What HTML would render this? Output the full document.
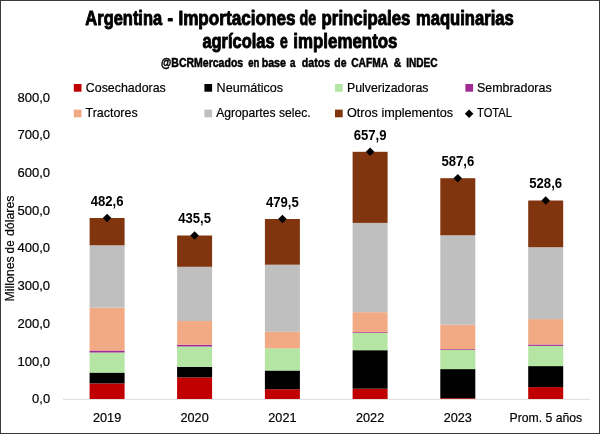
<!DOCTYPE html>
<html lang="es"><head><meta charset="utf-8"><title>Argentina - Importaciones de principales maquinarias agrícolas e implementos</title>
<style>html,body{margin:0;padding:0;background:#fff}body{width:600px;height:434px;overflow:hidden}svg{display:block}text{font-family:"Liberation Sans",sans-serif;fill:#000}.t{font-weight:bold;font-size:20px;stroke:#000;stroke-width:.95px;stroke-linejoin:round}.s{font-weight:bold;font-size:12.5px;stroke:#000;stroke-width:.5px}.n{font-size:13.33px;stroke:#000;stroke-width:.2px}.b{font-size:13.8px;font-weight:bold}</style>
</head><body>
<svg width="600" height="434" viewBox="0 0 600 434">
<rect x="0" y="0" width="600" height="434" fill="#fff"/>
<rect x="0.5" y="0.5" width="599" height="433" fill="none" stroke="#3a3a3a" stroke-width="1"/>
<text class="t" text-anchor="middle" transform="translate(123.75,25.0) scale(0.823,1)">Argentina</text>
<text class="t" text-anchor="middle" transform="translate(170.3,25.0) scale(0.835,1)">-</text>
<text class="t" text-anchor="middle" transform="translate(236.9,25.0) scale(0.857,1)">Importaciones</text>
<text class="t" text-anchor="middle" transform="translate(307.9,25.0) scale(0.71,1)">de</text>
<text class="t" text-anchor="middle" transform="translate(366.0,25.0) scale(0.842,1)">principales</text>
<text class="t" text-anchor="middle" transform="translate(464.8,25.0) scale(0.831,1)">maquinarias</text>
<text class="t" text-anchor="middle" transform="translate(238.5,48.3) scale(0.821,1)">agrícolas</text>
<text class="t" text-anchor="middle" transform="translate(284.0,48.3) scale(0.7,1)">e</text>
<text class="t" text-anchor="middle" transform="translate(345.4,48.3) scale(0.844,1)">implementos</text>
<text class="s" text-anchor="middle" transform="translate(202.1,66.6) scale(0.842,1)">@BCRMercados</text>
<text class="s" text-anchor="middle" transform="translate(253.75,66.6) scale(0.76,1)">en</text>
<text class="s" text-anchor="middle" transform="translate(273.8,66.6) scale(0.855,1)">base</text>
<text class="s" text-anchor="middle" transform="translate(292.65,66.6) scale(0.78,1)">a</text>
<text class="s" text-anchor="middle" transform="translate(316.0,66.6) scale(0.85,1)">datos</text>
<text class="s" text-anchor="middle" transform="translate(340.4,66.6) scale(0.833,1)">de</text>
<text class="s" text-anchor="middle" transform="translate(369.65,66.6) scale(0.82,1)">CAFMA</text>
<text class="s" text-anchor="middle" transform="translate(397.55,66.6) scale(0.83,1)">&amp;</text>
<text class="s" text-anchor="middle" transform="translate(421.9,66.6) scale(0.81,1)">INDEC</text>
<rect x="73.8" y="84.0" width="7.7" height="7.7" fill="#C00000"/>
<text x="85.8" y="91.8" class="n" text-anchor="start" textLength="80.0" lengthAdjust="spacingAndGlyphs">Cosechadoras</text>
<rect x="204.4" y="84.0" width="7.7" height="7.7" fill="#000000"/>
<text x="216.6" y="91.8" class="n" text-anchor="start" textLength="66.4" lengthAdjust="spacingAndGlyphs">Neumáticos</text>
<rect x="335.0" y="84.0" width="7.7" height="7.7" fill="#B4E5A2"/>
<text x="347.0" y="91.8" class="n" text-anchor="start" textLength="81.4" lengthAdjust="spacingAndGlyphs">Pulverizadoras</text>
<rect x="465.4" y="84.0" width="7.7" height="7.7" fill="#A02B93"/>
<text x="477.0" y="91.8" class="n" text-anchor="start" textLength="74.6" lengthAdjust="spacingAndGlyphs">Sembradoras</text>
<rect x="73.8" y="109.6" width="7.7" height="7.7" fill="#F2AA84"/>
<text x="85.6" y="116.8" class="n" text-anchor="start" textLength="52.0" lengthAdjust="spacingAndGlyphs">Tractores</text>
<rect x="204.4" y="109.6" width="7.7" height="7.7" fill="#BFBFBF"/>
<text x="216.2" y="116.8" class="n" text-anchor="start" textLength="94.4" lengthAdjust="spacingAndGlyphs">Agropartes selec.</text>
<rect x="335.0" y="109.6" width="7.7" height="7.7" fill="#80350E"/>
<text x="347.0" y="116.8" class="n" text-anchor="start" textLength="106.0" lengthAdjust="spacingAndGlyphs">Otros implementos</text>
<path d="M469.1 109.4L473.40000000000003 113.7L469.1 118.0L464.8 113.7Z" fill="#000"/>
<text x="477.0" y="116.8" class="n" text-anchor="start" textLength="35.0" lengthAdjust="spacingAndGlyphs">TOTAL</text>
<text x="32.1" y="403.2" class="n" text-anchor="start" textLength="18.0" lengthAdjust="spacingAndGlyphs">0,0</text>
<text x="17.5" y="365.5" class="n" text-anchor="start" textLength="32.6" lengthAdjust="spacingAndGlyphs">100,0</text>
<text x="17.5" y="327.8" class="n" text-anchor="start" textLength="32.6" lengthAdjust="spacingAndGlyphs">200,0</text>
<text x="17.5" y="290.1" class="n" text-anchor="start" textLength="32.6" lengthAdjust="spacingAndGlyphs">300,0</text>
<text x="17.5" y="252.4" class="n" text-anchor="start" textLength="32.6" lengthAdjust="spacingAndGlyphs">400,0</text>
<text x="17.5" y="214.8" class="n" text-anchor="start" textLength="32.6" lengthAdjust="spacingAndGlyphs">500,0</text>
<text x="17.5" y="177.1" class="n" text-anchor="start" textLength="32.6" lengthAdjust="spacingAndGlyphs">600,0</text>
<text x="17.5" y="139.4" class="n" text-anchor="start" textLength="32.6" lengthAdjust="spacingAndGlyphs">700,0</text>
<text x="17.5" y="101.7" class="n" text-anchor="start" textLength="32.6" lengthAdjust="spacingAndGlyphs">800,0</text>
<text class="n" text-anchor="middle" transform="translate(14.4,278.95) rotate(-90) scale(0.927,1)">Millones</text>
<text class="n" text-anchor="middle" transform="translate(14.4,246.85) rotate(-90) scale(0.88,1)">de</text>
<text class="n" text-anchor="middle" transform="translate(14.4,215.75) rotate(-90) scale(0.929,1)">dólares</text>
<rect x="63" y="398.85" width="527" height="0.95" fill="#DADADA"/>
<rect x="89.6" y="383.4" width="35.0" height="15.6" fill="#C00000"/>
<rect x="89.6" y="372.6" width="35.0" height="10.8" fill="#000000"/>
<rect x="89.6" y="352.5" width="35.0" height="20.1" fill="#B4E5A2"/>
<rect x="89.6" y="350.5" width="35.0" height="2.0" fill="#A02B93"/>
<rect x="89.6" y="307.6" width="35.0" height="42.9" fill="#F2AA84"/>
<rect x="89.6" y="245.3" width="35.0" height="62.3" fill="#BFBFBF"/>
<rect x="89.6" y="218.0" width="35.0" height="27.3" fill="#80350E"/>
<path d="M107.1 213.7L111.39999999999999 218.0L107.1 222.3L102.8 218.0Z" fill="#000"/>
<text x="90.7" y="205.9" class="b" text-anchor="start" textLength="32.8" lengthAdjust="spacingAndGlyphs">482,6</text>
<text x="93.0" y="421.6" class="n" text-anchor="start" textLength="28.2" lengthAdjust="spacingAndGlyphs">2019</text>
<rect x="177.1" y="377.4" width="35.0" height="21.6" fill="#C00000"/>
<rect x="177.1" y="366.8" width="35.0" height="10.6" fill="#000000"/>
<rect x="177.1" y="346.5" width="35.0" height="20.3" fill="#B4E5A2"/>
<rect x="177.1" y="344.7" width="35.0" height="1.8" fill="#A02B93"/>
<rect x="177.1" y="321.0" width="35.0" height="23.7" fill="#F2AA84"/>
<rect x="177.1" y="266.8" width="35.0" height="54.2" fill="#BFBFBF"/>
<rect x="177.1" y="235.5" width="35.0" height="31.3" fill="#80350E"/>
<path d="M194.6 231.2L198.9 235.5L194.6 239.8L190.29999999999998 235.5Z" fill="#000"/>
<text x="178.2" y="223.4" class="b" text-anchor="start" textLength="32.8" lengthAdjust="spacingAndGlyphs">435,5</text>
<text x="180.5" y="421.6" class="n" text-anchor="start" textLength="28.2" lengthAdjust="spacingAndGlyphs">2020</text>
<rect x="264.9" y="389.2" width="35.0" height="9.8" fill="#C00000"/>
<rect x="264.9" y="370.5" width="35.0" height="18.7" fill="#000000"/>
<rect x="264.9" y="348.3" width="35.0" height="22.2" fill="#B4E5A2"/>
<rect x="264.9" y="348.3" width="35.0" height="0.0" fill="#A02B93"/>
<rect x="264.9" y="331.8" width="35.0" height="16.5" fill="#F2AA84"/>
<rect x="264.9" y="264.7" width="35.0" height="67.1" fill="#BFBFBF"/>
<rect x="264.9" y="219.0" width="35.0" height="45.7" fill="#80350E"/>
<path d="M282.4 214.7L286.7 219.0L282.4 223.3L278.09999999999997 219.0Z" fill="#000"/>
<text x="266.0" y="206.9" class="b" text-anchor="start" textLength="32.8" lengthAdjust="spacingAndGlyphs">479,5</text>
<text x="268.3" y="421.6" class="n" text-anchor="start" textLength="28.2" lengthAdjust="spacingAndGlyphs">2021</text>
<rect x="352.6" y="388.7" width="35.0" height="10.3" fill="#C00000"/>
<rect x="352.6" y="350.2" width="35.0" height="38.5" fill="#000000"/>
<rect x="352.6" y="333.0" width="35.0" height="17.2" fill="#B4E5A2"/>
<rect x="352.6" y="332.2" width="35.0" height="0.8" fill="#A02B93"/>
<rect x="352.6" y="312.2" width="35.0" height="20.0" fill="#F2AA84"/>
<rect x="352.6" y="222.9" width="35.0" height="89.3" fill="#BFBFBF"/>
<rect x="352.6" y="151.8" width="35.0" height="71.1" fill="#80350E"/>
<path d="M370.1 147.5L374.40000000000003 151.8L370.1 156.10000000000002L365.8 151.8Z" fill="#000"/>
<text x="353.7" y="139.7" class="b" text-anchor="start" textLength="32.8" lengthAdjust="spacingAndGlyphs">657,9</text>
<text x="356.0" y="421.6" class="n" text-anchor="start" textLength="28.2" lengthAdjust="spacingAndGlyphs">2022</text>
<rect x="440.3" y="398.2" width="35.0" height="0.8" fill="#C00000"/>
<rect x="440.3" y="369.1" width="35.0" height="29.1" fill="#000000"/>
<rect x="440.3" y="350.0" width="35.0" height="19.1" fill="#B4E5A2"/>
<rect x="440.3" y="349.2" width="35.0" height="0.8" fill="#A02B93"/>
<rect x="440.3" y="324.7" width="35.0" height="24.5" fill="#F2AA84"/>
<rect x="440.3" y="235.3" width="35.0" height="89.4" fill="#BFBFBF"/>
<rect x="440.3" y="178.2" width="35.0" height="57.1" fill="#80350E"/>
<path d="M457.8 173.89999999999998L462.1 178.2L457.8 182.5L453.5 178.2Z" fill="#000"/>
<text x="441.4" y="166.1" class="b" text-anchor="start" textLength="32.8" lengthAdjust="spacingAndGlyphs">587,6</text>
<text x="443.7" y="421.6" class="n" text-anchor="start" textLength="28.2" lengthAdjust="spacingAndGlyphs">2023</text>
<rect x="528.2" y="387.1" width="35.0" height="11.9" fill="#C00000"/>
<rect x="528.2" y="366.1" width="35.0" height="21.0" fill="#000000"/>
<rect x="528.2" y="345.9" width="35.0" height="20.2" fill="#B4E5A2"/>
<rect x="528.2" y="344.5" width="35.0" height="1.4" fill="#A02B93"/>
<rect x="528.2" y="319.1" width="35.0" height="25.4" fill="#F2AA84"/>
<rect x="528.2" y="247.2" width="35.0" height="71.9" fill="#BFBFBF"/>
<rect x="528.2" y="200.5" width="35.0" height="46.7" fill="#80350E"/>
<path d="M545.7 196.2L550.0 200.5L545.7 204.8L541.4000000000001 200.5Z" fill="#000"/>
<text x="529.3" y="188.4" class="b" text-anchor="start" textLength="32.8" lengthAdjust="spacingAndGlyphs">528,6</text>
<text x="509.5" y="421.5" class="n" text-anchor="start" textLength="72.7" lengthAdjust="spacingAndGlyphs">Prom. 5 años</text>
</svg></body></html>
